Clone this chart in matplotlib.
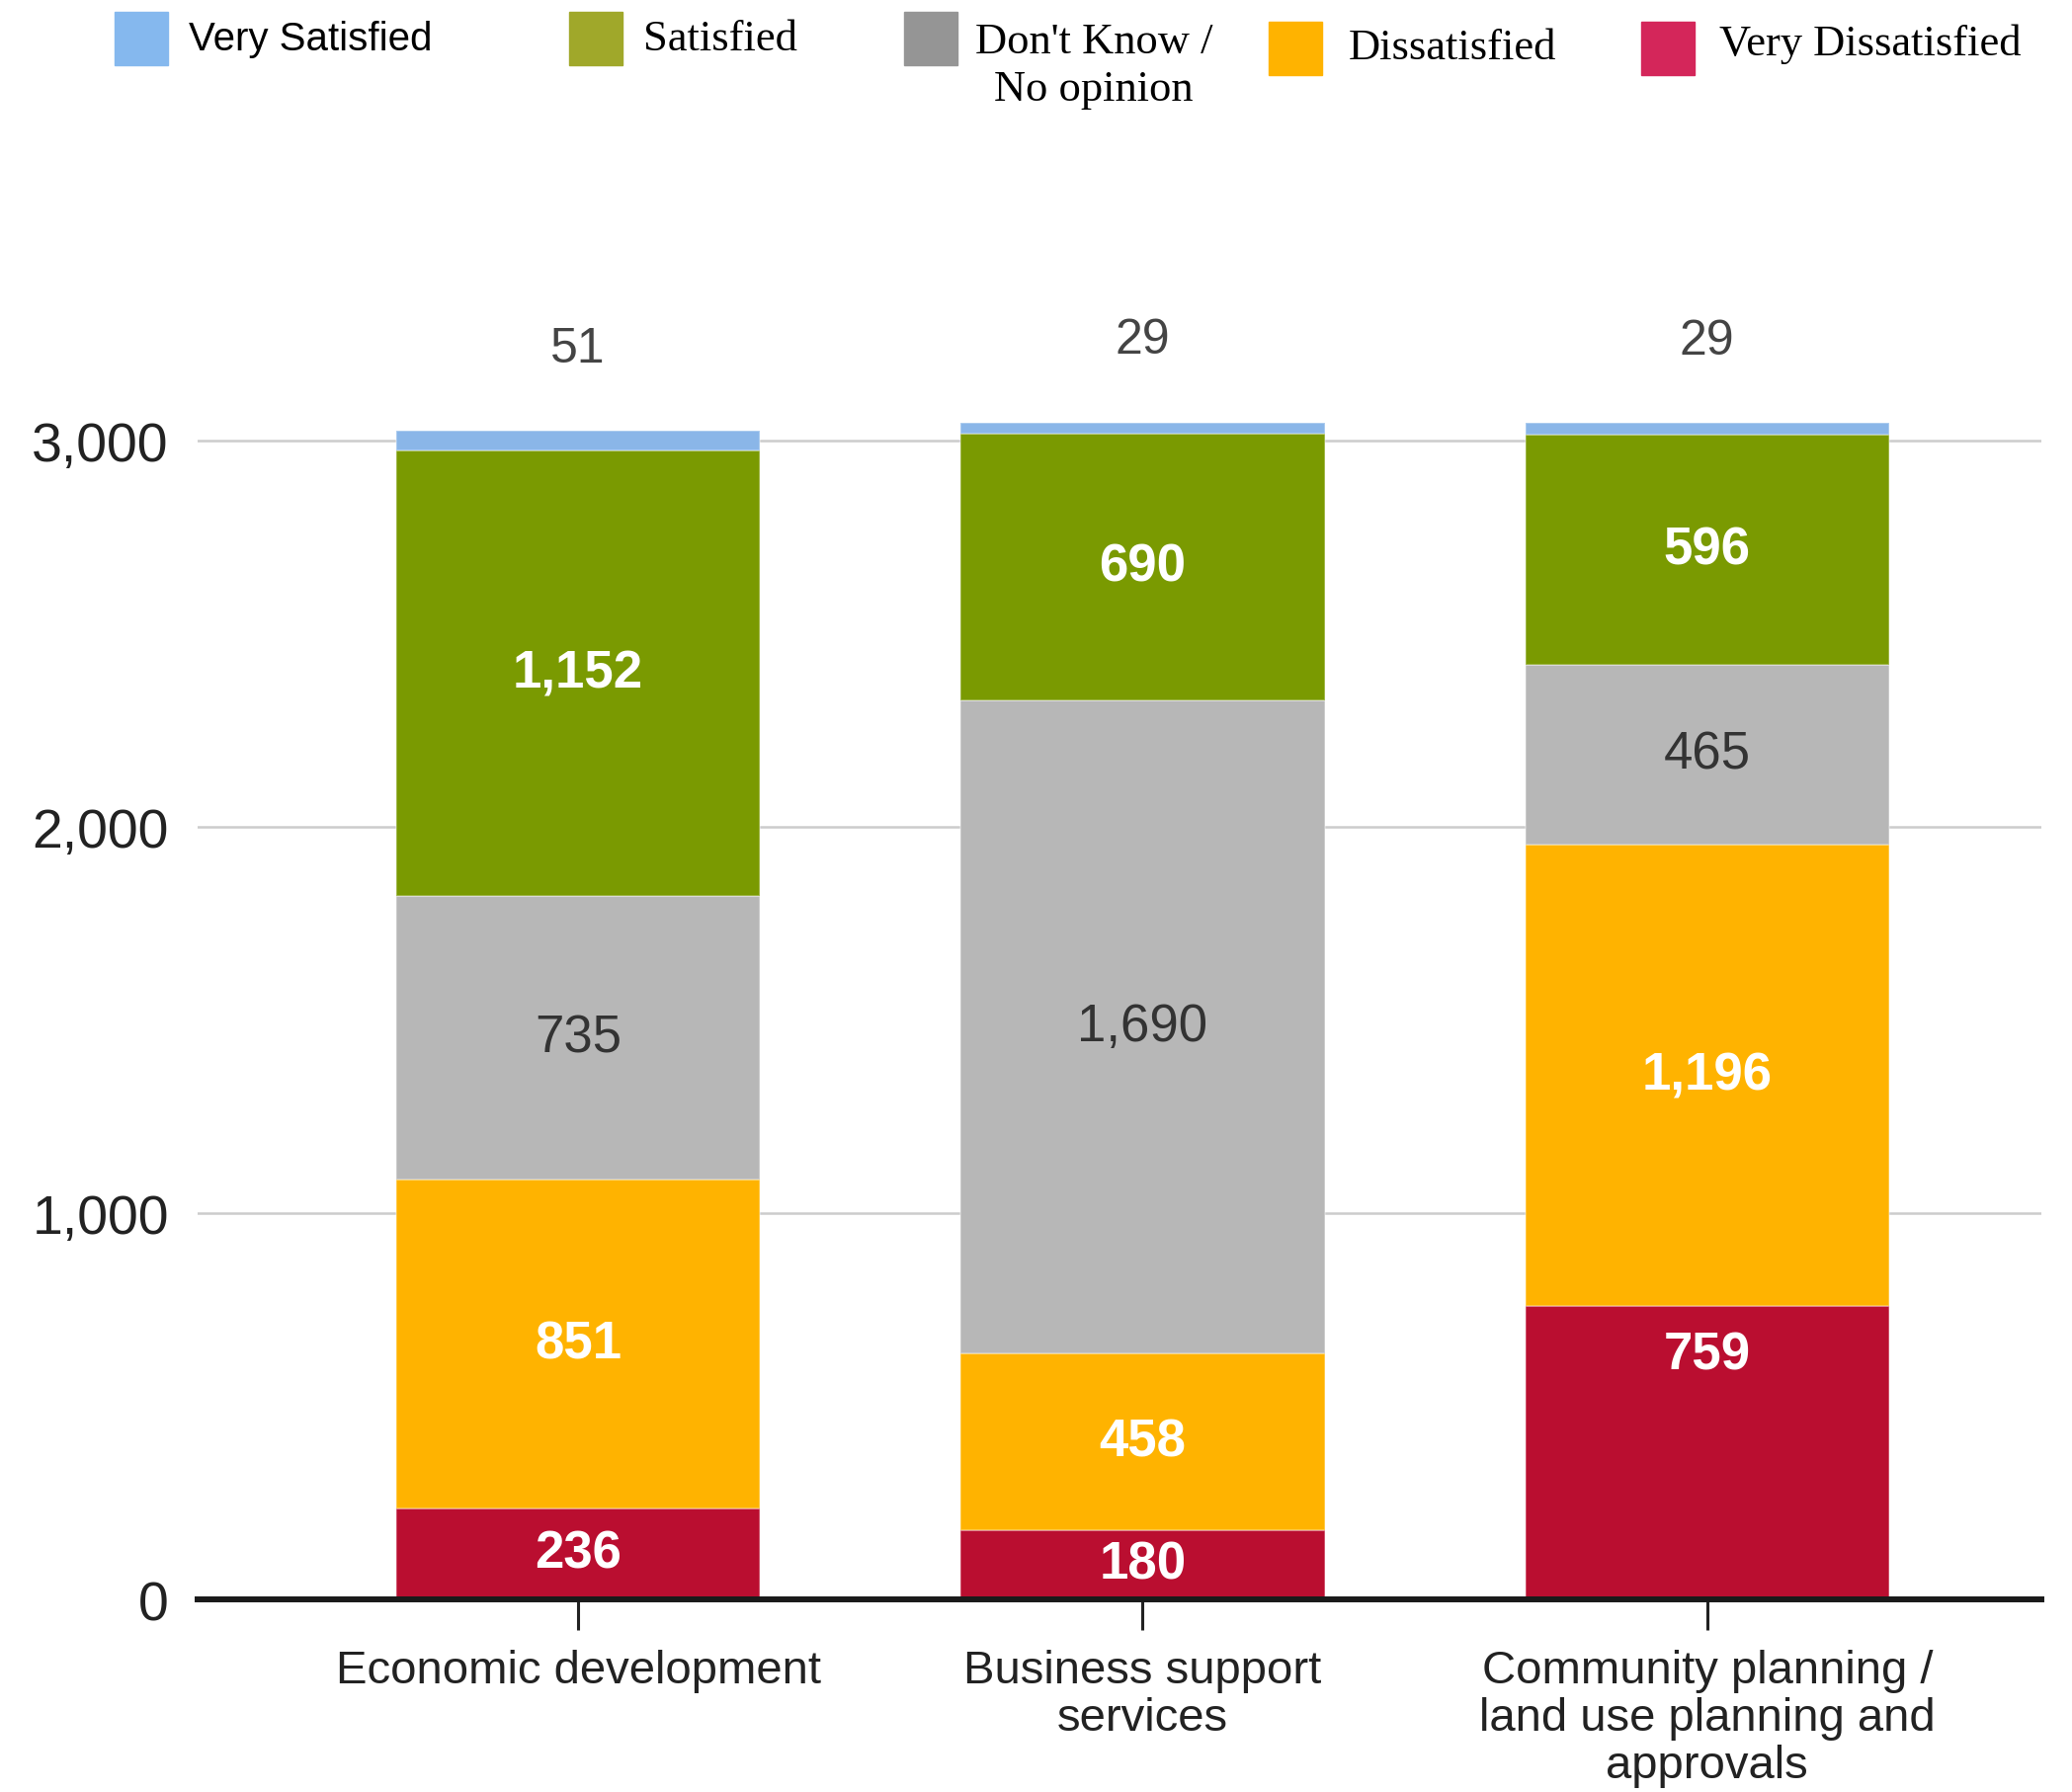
import matplotlib.pyplot as plt
from matplotlib.patches import Rectangle

categories = ['Economic development', 'Business support\nservices',
              'Community planning /\nland use planning and\napprovals']
series = ['Very Dissatisfied', 'Dissatisfied', "Don't Know /\nNo opinion",
          'Satisfied', 'Very Satisfied']

very_dissatisfied = [236, 180, 759]
dissatisfied = [851, 458, 1196]
dont_know = [735, 1690, 465]
satisfied = [1152, 690, 596]
very_satisfied = [51, 29, 29]

yticks = [0, 1000, 2000, 3000]
ytick_labels = ['0', '1,000', '2,000', '3,000']

bar_colors = ['#ba0e30', '#ffb300', '#b7b7b7', '#7a9a01', '#8ab6e8']
legend_colors = ['#d4265a', '#ffb300', '#959595', '#a0a82a', '#85b8ee']
label_colors = ['white', 'white', '#333333', 'white', None]
label_weights = ['bold', 'bold', 'normal', 'bold', None]

W, H = 2097, 1815
fig = plt.figure(figsize=(W / 100, H / 100), dpi=100)
ax = fig.add_axes([200 / W, 0.1074, (2066 - 200) / W, 0.754])

x = list(range(len(categories)))
stack = [very_dissatisfied, dissatisfied, dont_know, satisfied, very_satisfied]
bottom = [0, 0, 0]
for s, vals in enumerate(stack):
    ax.bar(x, vals, width=0.645, bottom=bottom, color=bar_colors[s],
           edgecolor=(1, 1, 1, 0.35), linewidth=1.2, zorder=3)
    for i, v in enumerate(vals):
        if s == 4:
            ax.annotate(str(v), (i, bottom[i] + v), xytext=(0, 60),
                        textcoords='offset points', ha='center', va='center',
                        fontsize=36, color='#444444', family='Liberation Sans')
            continue
        # the tall red segment on the last bar carries its label high up
        y = bottom[i] + v * (0.835 if (s == 0 and i == 2) else 0.5)
        ax.text(i, y, f'{v:,}', ha='center', va='center', fontsize=38,
                color=label_colors[s], fontweight=label_weights[s],
                family='Liberation Sans', zorder=4)
    bottom = [b + v for b, v in zip(bottom, vals)]

ax.set_xlim(-0.674, 2.592)
ax.set_ylim(0, 3500)
ax.set_yticks(yticks)
ax.set_yticklabels(ytick_labels, fontsize=40, color='#222222', family='Liberation Sans')
ax.grid(axis='y', color='#cccccc', linewidth=1.8, zorder=0)
ax.set_axisbelow(True)

ax.set_xticks(x)
ax.set_xticklabels(categories, fontsize=34, color='#222222',
                   family='Liberation Sans', linespacing=1.12)
ax.tick_params(axis='x', direction='inout', length=44, width=2.2,
               color='#222222', pad=14)
ax.tick_params(axis='y', length=0, pad=21)

for side in ['top', 'right', 'left']:
    ax.spines[side].set_visible(False)
ax.spines['bottom'].set_color('#1a1a1a')
ax.spines['bottom'].set_linewidth(4.3)
ax.spines['bottom'].set_zorder(5)

# legend row along the top edge
def fx(px):
    return px / W

def fy(py):
    return 1 - py / H

sw = 54
legend_items = [
    (4, 116, 13, 191, 40, 'left', 'Liberation Sans'),
    (3, 576, 13, 651, 40, 'left', 'Liberation Serif'),
    (2, 915, 13, 1107, 67, 'center', 'Liberation Serif'),
    (1, 1284, 23, 1365, 49, 'left', 'Liberation Serif'),
    (0, 1661, 23, 1740, 45, 'left', 'Liberation Serif'),
]
for s, px, py, tx, ty, ha, fam in legend_items:
    fig.patches.append(Rectangle((fx(px), fy(py + sw)), sw / W, sw / H,
                                 transform=fig.transFigure,
                                 color=legend_colors[s]))
    fig.text(fx(tx), fy(ty), series[s], ha=ha, va='center', family=fam,
             fontsize=29 if s == 4 else 32, color='black', linespacing=1.25)

fig.savefig('out.png', dpi=100)
